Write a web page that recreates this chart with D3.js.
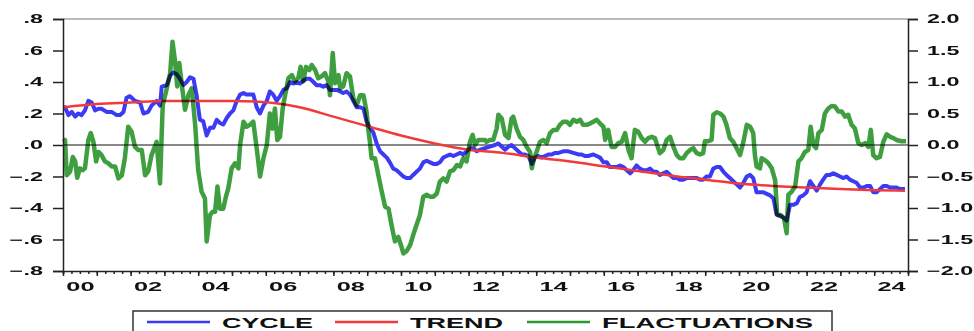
<!DOCTYPE html>
<html>
<head>
<meta charset="utf-8">
<script src="https://cdn.jsdelivr.net/npm/d3@7"></script>
<style>
  html, body { margin: 0; padding: 0; background: #fff; }
  svg { display: block; }
  text { font-family: "Liberation Sans", Arial, sans-serif; font-weight: bold; fill: #111; }
</style>
</head>
<body>
<svg id="chart" width="974" height="331"></svg>
<script>
// Series: [decimal year, value]. CYCLE and TREND on the left axis, FLACTUATIONS on the right axis.
const cycle = [
  [2000.03,0.24],[2000.06,0.24],[2000.16,0.19],[2000.26,0.21],[2000.36,0.18],[2000.45,0.20],[2000.55,0.19],[2000.65,0.22],
  [2000.75,0.28],[2000.85,0.27],[2000.95,0.22],[2001.05,0.23],[2001.14,0.23],[2001.29,0.21],[2001.44,0.21],[2001.59,0.19],
  [2001.69,0.19],[2001.79,0.21],[2001.88,0.30],[2001.98,0.31],[2002.13,0.28],[2002.28,0.27],[2002.38,0.20],[2002.52,0.21],
  [2002.62,0.25],[2002.77,0.28],[2002.87,0.25],[2002.92,0.37],[2003.07,0.38],[2003.17,0.44],[2003.26,0.46],[2003.36,0.45],
  [2003.46,0.42],[2003.56,0.38],[2003.66,0.40],[2003.76,0.43],[2003.86,0.42],[2003.95,0.32],[2004.05,0.16],[2004.15,0.15],
  [2004.25,0.06],[2004.35,0.11],[2004.45,0.11],[2004.55,0.16],[2004.64,0.14],[2004.74,0.13],[2004.84,0.17],[2004.94,0.20],
  [2005.04,0.22],[2005.14,0.28],[2005.24,0.32],[2005.34,0.33],[2005.43,0.32],[2005.53,0.32],[2005.63,0.32],[2005.73,0.24],
  [2005.83,0.20],[2005.93,0.25],[2006.03,0.28],[2006.12,0.34],[2006.22,0.32],[2006.32,0.28],[2006.42,0.31],[2006.52,0.35],
  [2006.62,0.36],[2006.72,0.40],[2006.81,0.39],[2006.91,0.40],[2007.01,0.39],[2007.11,0.41],[2007.21,0.42],[2007.31,0.42],
  [2007.41,0.40],[2007.50,0.38],[2007.60,0.38],[2007.70,0.37],[2007.80,0.38],[2007.90,0.35],[2008.00,0.35],[2008.10,0.35],
  [2008.20,0.34],[2008.29,0.33],[2008.39,0.34],[2008.49,0.32],[2008.59,0.28],[2008.69,0.24],[2008.79,0.24],[2008.89,0.23],
  [2008.98,0.15],[2009.08,0.11],[2009.18,0.08],[2009.28,0.01],[2009.38,-0.04],[2009.48,-0.06],[2009.58,-0.08],[2009.67,-0.11],
  [2009.77,-0.15],[2009.87,-0.16],[2009.97,-0.18],[2010.07,-0.20],[2010.17,-0.21],[2010.27,-0.21],[2010.36,-0.19],[2010.46,-0.17],
  [2010.56,-0.15],[2010.66,-0.11],[2010.76,-0.10],[2010.86,-0.11],[2010.96,-0.12],[2011.06,-0.12],[2011.15,-0.11],[2011.25,-0.08],
  [2011.35,-0.07],[2011.45,-0.06],[2011.55,-0.07],[2011.65,-0.06],[2011.75,-0.05],[2011.84,-0.06],[2011.94,-0.04],[2012.04,-0.02],
  [2012.14,-0.02],[2012.24,-0.04],[2012.34,-0.03],[2012.49,-0.02],[2012.63,-0.01],[2012.78,0.00],[2012.88,0.01],[2012.98,-0.01],
  [2013.08,-0.03],[2013.18,-0.01],[2013.27,0.00],[2013.37,-0.02],[2013.47,-0.04],[2013.57,-0.06],[2013.67,-0.06],[2013.77,-0.07],
  [2013.87,-0.12],[2013.96,-0.08],[2014.06,-0.07],[2014.16,-0.08],[2014.26,-0.07],[2014.36,-0.06],[2014.46,-0.06],[2014.56,-0.05],
  [2014.66,-0.05],[2014.80,-0.04],[2014.95,-0.04],[2015.10,-0.05],[2015.25,-0.06],[2015.35,-0.06],[2015.44,-0.07],[2015.54,-0.07],
  [2015.69,-0.06],[2015.79,-0.07],[2015.89,-0.08],[2015.99,-0.11],[2016.09,-0.11],[2016.18,-0.14],[2016.28,-0.14],[2016.38,-0.14],
  [2016.48,-0.13],[2016.58,-0.14],[2016.68,-0.16],[2016.78,-0.18],[2016.87,-0.16],[2016.97,-0.13],[2017.07,-0.15],[2017.17,-0.16],
  [2017.27,-0.16],[2017.37,-0.15],[2017.47,-0.17],[2017.56,-0.17],[2017.66,-0.19],[2017.76,-0.18],[2017.86,-0.17],[2017.96,-0.19],
  [2018.06,-0.21],[2018.16,-0.21],[2018.25,-0.22],[2018.35,-0.22],[2018.45,-0.21],[2018.55,-0.21],[2018.65,-0.21],[2018.75,-0.21],
  [2018.85,-0.22],[2018.94,-0.22],[2019.04,-0.20],[2019.14,-0.20],[2019.24,-0.15],[2019.34,-0.14],[2019.44,-0.14],[2019.54,-0.17],
  [2019.63,-0.19],[2019.73,-0.21],[2019.83,-0.23],[2019.93,-0.25],[2020.03,-0.27],[2020.13,-0.24],[2020.23,-0.20],[2020.33,-0.19],
  [2020.42,-0.21],[2020.52,-0.30],[2020.62,-0.30],[2020.72,-0.30],[2020.82,-0.31],[2020.92,-0.32],[2021.02,-0.34],[2021.11,-0.44],
  [2021.21,-0.45],[2021.31,-0.46],[2021.41,-0.48],[2021.51,-0.38],[2021.61,-0.38],[2021.71,-0.37],[2021.80,-0.33],[2021.90,-0.32],
  [2022.00,-0.30],[2022.10,-0.23],[2022.20,-0.26],[2022.30,-0.29],[2022.40,-0.25],[2022.49,-0.22],[2022.59,-0.19],[2022.69,-0.19],
  [2022.79,-0.18],[2022.89,-0.19],[2022.99,-0.20],[2023.09,-0.21],[2023.18,-0.20],[2023.28,-0.22],[2023.38,-0.23],[2023.48,-0.24],
  [2023.58,-0.27],[2023.68,-0.27],[2023.78,-0.26],[2023.88,-0.26],[2023.97,-0.30],[2024.07,-0.30],[2024.17,-0.28],[2024.27,-0.26],
  [2024.37,-0.26],[2024.47,-0.27],[2024.57,-0.27],[2024.66,-0.27],[2024.76,-0.28],[2024.91,-0.28]
];

const trend = [
  [2000.03,0.24],[2001,0.26],[2002,0.27],[2003,0.28],[2004,0.28],[2005,0.28],[2005.8,0.275],[2006.3,0.265],
  [2007,0.24],[2008,0.18],[2009,0.12],[2010,0.06],[2011,0.01],[2012,-0.03],[2013,-0.05],[2014,-0.08],
  [2015,-0.105],[2016,-0.135],[2017,-0.165],[2018,-0.195],[2019,-0.22],[2020,-0.245],[2021,-0.26],[2022,-0.27],
  [2023,-0.28],[2024,-0.287],[2024.91,-0.29]
];

const fluctuations = [
  [2000.03,0.05],[2000.06,0.08],[2000.11,-0.48],[2000.21,-0.42],[2000.29,-0.19],[2000.36,-0.26],[2000.42,-0.52],[2000.50,-0.37],
  [2000.58,-0.40],[2000.65,-0.37],[2000.75,0.08],[2000.82,0.19],[2000.90,0.05],[2000.98,-0.26],[2001.05,-0.11],[2001.14,-0.16],
  [2001.24,-0.26],[2001.34,-0.29],[2001.44,-0.34],[2001.54,-0.34],[2001.64,-0.53],[2001.74,-0.48],[2001.83,-0.21],[2001.93,0.29],
  [2002.03,0.21],[2002.13,-0.03],[2002.23,-0.08],[2002.33,-0.08],[2002.43,-0.48],[2002.52,-0.42],[2002.62,-0.16],[2002.77,0.05],
  [2002.87,-0.61],[2002.95,0.63],[2003.05,0.85],[2003.17,1.14],[2003.24,1.64],[2003.31,1.35],[2003.38,0.93],[2003.44,1.30],
  [2003.54,0.85],[2003.61,0.56],[2003.71,0.79],[2003.81,0.90],[2003.91,0.32],[2004.00,-0.40],[2004.10,-0.74],[2004.20,-0.85],
  [2004.25,-1.53],[2004.35,-1.11],[2004.43,-1.06],[2004.50,-1.06],[2004.57,-0.66],[2004.64,-1.01],[2004.74,-1.01],[2004.82,-0.82],
  [2004.89,-0.69],[2004.99,-0.37],[2005.09,-0.29],[2005.19,-0.37],[2005.24,0.00],[2005.34,0.37],[2005.43,0.29],[2005.53,0.32],
  [2005.63,0.37],[2005.73,-0.05],[2005.83,-0.50],[2005.93,-0.21],[2006.03,0.00],[2006.12,0.50],[2006.20,0.26],[2006.27,0.58],
  [2006.34,0.08],[2006.42,0.13],[2006.50,0.58],[2006.57,0.79],[2006.67,1.06],[2006.77,1.11],[2006.86,1.01],[2006.96,1.06],
  [2007.03,1.24],[2007.11,1.01],[2007.19,1.24],[2007.29,1.19],[2007.36,1.27],[2007.46,1.19],[2007.55,1.06],[2007.65,1.09],
  [2007.75,1.14],[2007.85,1.01],[2007.90,0.79],[2007.98,1.46],[2008.05,0.98],[2008.15,1.11],[2008.20,0.90],[2008.29,0.93],
  [2008.39,1.14],[2008.49,1.09],[2008.59,0.74],[2008.69,0.63],[2008.79,0.79],[2008.89,0.79],[2008.98,0.53],[2009.03,0.26],
  [2009.08,0.05],[2009.13,-0.21],[2009.23,-0.21],[2009.33,-0.48],[2009.43,-0.74],[2009.53,-0.98],[2009.63,-1.01],[2009.72,-1.27],
  [2009.82,-1.53],[2009.92,-1.46],[2010.00,-1.59],[2010.07,-1.72],[2010.17,-1.68],[2010.27,-1.59],[2010.36,-1.43],[2010.46,-1.27],
  [2010.56,-1.11],[2010.66,-0.82],[2010.76,-0.79],[2010.86,-0.82],[2010.96,-0.82],[2011.06,-0.77],[2011.15,-0.58],[2011.25,-0.53],
  [2011.35,-0.58],[2011.45,-0.42],[2011.55,-0.40],[2011.65,-0.32],[2011.75,-0.34],[2011.84,-0.21],[2011.94,-0.26],[2012.04,0.05],
  [2012.12,0.16],[2012.19,0.00],[2012.29,0.08],[2012.39,0.08],[2012.49,0.08],[2012.53,0.05],[2012.63,0.08],[2012.73,0.08],
  [2012.83,0.26],[2012.88,0.48],[2012.98,0.42],[2013.08,0.16],[2013.18,0.11],[2013.27,0.42],[2013.32,0.45],[2013.42,0.26],
  [2013.52,0.13],[2013.62,0.08],[2013.72,-0.03],[2013.82,-0.11],[2013.87,-0.37],[2013.94,-0.21],[2014.01,-0.11],[2014.11,0.05],
  [2014.21,0.08],[2014.31,0.03],[2014.41,0.19],[2014.51,0.24],[2014.61,0.24],[2014.70,0.32],[2014.80,0.37],[2014.90,0.37],
  [2015.00,0.32],[2015.10,0.40],[2015.20,0.37],[2015.30,0.40],[2015.39,0.32],[2015.49,0.32],[2015.59,0.34],[2015.69,0.37],
  [2015.79,0.40],[2015.89,0.34],[2015.99,0.29],[2016.04,0.08],[2016.13,0.24],[2016.23,-0.03],[2016.33,-0.03],[2016.43,0.03],
  [2016.53,0.05],[2016.63,0.19],[2016.73,-0.08],[2016.82,-0.21],[2016.92,0.24],[2017.02,0.21],[2017.12,0.11],[2017.22,0.05],
  [2017.32,0.11],[2017.42,0.13],[2017.51,0.11],[2017.56,0.03],[2017.66,-0.13],[2017.76,-0.08],[2017.86,0.08],[2017.96,0.13],
  [2018.06,-0.03],[2018.16,-0.16],[2018.25,-0.21],[2018.35,-0.21],[2018.45,-0.13],[2018.55,-0.08],[2018.65,-0.05],[2018.75,-0.13],
  [2018.85,-0.15],[2018.94,-0.13],[2018.99,0.06],[2019.09,0.06],[2019.19,0.08],[2019.24,0.48],[2019.34,0.52],[2019.44,0.50],
  [2019.54,0.45],[2019.63,0.32],[2019.73,0.11],[2019.83,0.05],[2019.93,-0.05],[2020.03,-0.16],[2020.13,0.05],[2020.23,0.32],
  [2020.33,0.29],[2020.42,0.19],[2020.47,-0.16],[2020.52,-0.34],[2020.62,-0.37],[2020.67,-0.21],[2020.77,-0.24],[2020.87,-0.29],
  [2020.97,-0.37],[2021.07,-0.56],[2021.13,-1.11],[2021.23,-1.11],[2021.33,-1.16],[2021.41,-1.40],[2021.46,-0.79],[2021.56,-0.74],
  [2021.66,-0.66],[2021.76,-0.26],[2021.85,-0.21],[2021.95,-0.11],[2022.05,-0.08],[2022.12,0.29],[2022.20,0.00],[2022.28,-0.05],
  [2022.35,0.19],[2022.45,0.24],[2022.54,0.50],[2022.64,0.58],[2022.74,0.62],[2022.84,0.61],[2022.94,0.53],[2023.04,0.53],
  [2023.14,0.45],[2023.23,0.48],[2023.33,0.32],[2023.43,0.26],[2023.53,0.03],[2023.63,0.00],[2023.73,0.03],[2023.83,-0.03],
  [2023.90,0.24],[2023.97,-0.16],[2024.07,-0.21],[2024.17,-0.19],[2024.27,0.05],[2024.37,0.17],[2024.47,0.13],[2024.57,0.11],
  [2024.66,0.08],[2024.81,0.06],[2024.94,0.06]
];

const leftTicks = [-0.8, -0.6, -0.4, -0.2, 0, 0.2, 0.4, 0.6, 0.8];
const rightTicks = [-2, -1.5, -1, -0.5, 0, 0.5, 1, 1.5, 2];
const yearLabels = ["00","02","04","06","08","10","12","14","16","18","20","22","24"];
const legendItems = [
  { name: "CYCLE", color: "#3b3bf6", width: 91 },
  { name: "TREND", color: "#f23a3a", width: 93 },
  { name: "FLACTUATIONS", color: "#2e962f", width: 211 }
];

const svg = d3.select("#chart");
const X0 = 63, X1 = 908, Y0 = 19, Y1 = 271;
const SX = 1.95; // horizontal stretch of the axis lettering

const x = d3.scaleLinear().domain([2000, 2025]).range([X0, X1]);
const yL = d3.scaleLinear().domain([-0.8, 0.8]).range([Y1, Y0]);
const yR = d3.scaleLinear().domain([-2, 2]).range([Y1, Y0]);

// frame top edge
svg.append("line").attr("x1", X0).attr("x2", X1).attr("y1", Y0).attr("y2", Y0)
  .attr("stroke", "#777").attr("stroke-width", 1);

// zero line
svg.append("line").attr("x1", X0).attr("x2", X1).attr("y1", yL(0)).attr("y2", yL(0))
  .attr("stroke", "#111").attr("stroke-width", 1);

const plot = svg.append("g");
const lineL = d3.line().x(d => x(d[0])).y(d => yL(d[1]));
const lineR = d3.line().x(d => x(d[0])).y(d => yR(d[1]));

plot.append("path").datum(cycle).attr("d", lineL)
  .attr("fill", "none").attr("stroke", legendItems[0].color).attr("stroke-width", 4)
  .attr("stroke-linejoin", "round");
plot.append("path").datum(trend).attr("d", lineL.curve(d3.curveMonotoneX))
  .attr("fill", "none").attr("stroke", legendItems[1].color).attr("stroke-width", 2.5);
plot.append("path").datum(fluctuations).attr("d", lineR)
  .attr("fill", "none").attr("stroke", legendItems[2].color).attr("stroke-width", 4.5)
  .attr("stroke-linejoin", "round").attr("opacity", 0.92)
  .style("mix-blend-mode", "multiply");

function stretch(sel, dx) {
  sel.selectAll("text")
    .attr("x", 0)
    .attr("transform", `translate(${dx},0) scale(${SX},1)`);
}

// left axis
const leftFmt = d => d3.format(".1f")(d).replace("0.", ".");
const gL = svg.append("g").attr("transform", `translate(${X0},0)`)
  .call(d3.axisLeft(yL).tickValues(leftTicks).tickSize(10).tickFormat(leftFmt));
gL.selectAll("path, line").attr("stroke", "#222").attr("stroke-width", 1.5);
gL.selectAll("text").style("font-size", "12px").attr("fill", "#111");
stretch(gL, -20);

// right axis
const gR = svg.append("g").attr("transform", `translate(${X1},0)`)
  .call(d3.axisRight(yR).tickValues(rightTicks).tickSize(10).tickFormat(d3.format(".1f")));
gR.selectAll("path, line").attr("stroke", "#222").attr("stroke-width", 1.5);
gR.selectAll("text").style("font-size", "12px").attr("fill", "#111");
stretch(gR, 19);

// bottom axis: quarter and year ticks, labels every other year at mid-year
const quarters = d3.range(2000, 2025.001, 0.25);
const years = d3.range(2000, 2026, 1);
const gQ = svg.append("g").attr("transform", `translate(0,${Y1})`)
  .call(d3.axisBottom(x).tickValues(quarters).tickSize(3).tickFormat(""));
gQ.selectAll("path, line").attr("stroke", "#222").attr("stroke-width", 1.5);
const gY = svg.append("g").attr("transform", `translate(0,${Y1})`)
  .call(d3.axisBottom(x).tickValues(years).tickSize(5).tickFormat(""));
gY.select("path").remove();
gY.selectAll("line").attr("stroke", "#222").attr("stroke-width", 1.5);

const labelPos = yearLabels.map(s => 2000 + (+s) + 0.5);
const gX = svg.append("g").attr("transform", `translate(0,${Y1})`)
  .call(d3.axisBottom(x).tickValues(labelPos).tickSize(0).tickPadding(11)
    .tickFormat((d, i) => yearLabels[i]));
gX.select("path").remove();
gX.selectAll("text").style("font-size", "13px").attr("fill", "#111")
  .attr("transform", `scale(${SX},1)`);

// legend
const lg = svg.append("g");
lg.append("rect").attr("x", 133).attr("y", 311).attr("width", 699).attr("height", 40)
  .attr("fill", "#fff").attr("stroke", "#333").attr("stroke-width", 1.5);
const legendX = [147, 335, 527];
legendItems.forEach((it, i) => {
  const lx = legendX[i];
  lg.append("line").attr("x1", lx).attr("x2", lx + 63).attr("y1", 322).attr("y2", 322)
    .attr("stroke", it.color).attr("stroke-width", 2.5);
  lg.append("text").attr("x", lx + 75).attr("y", 327.5)
    .attr("textLength", it.width).attr("lengthAdjust", "spacingAndGlyphs")
    .style("font-size", "15.5px").text(it.name);
});
</script>
</body>
</html>
